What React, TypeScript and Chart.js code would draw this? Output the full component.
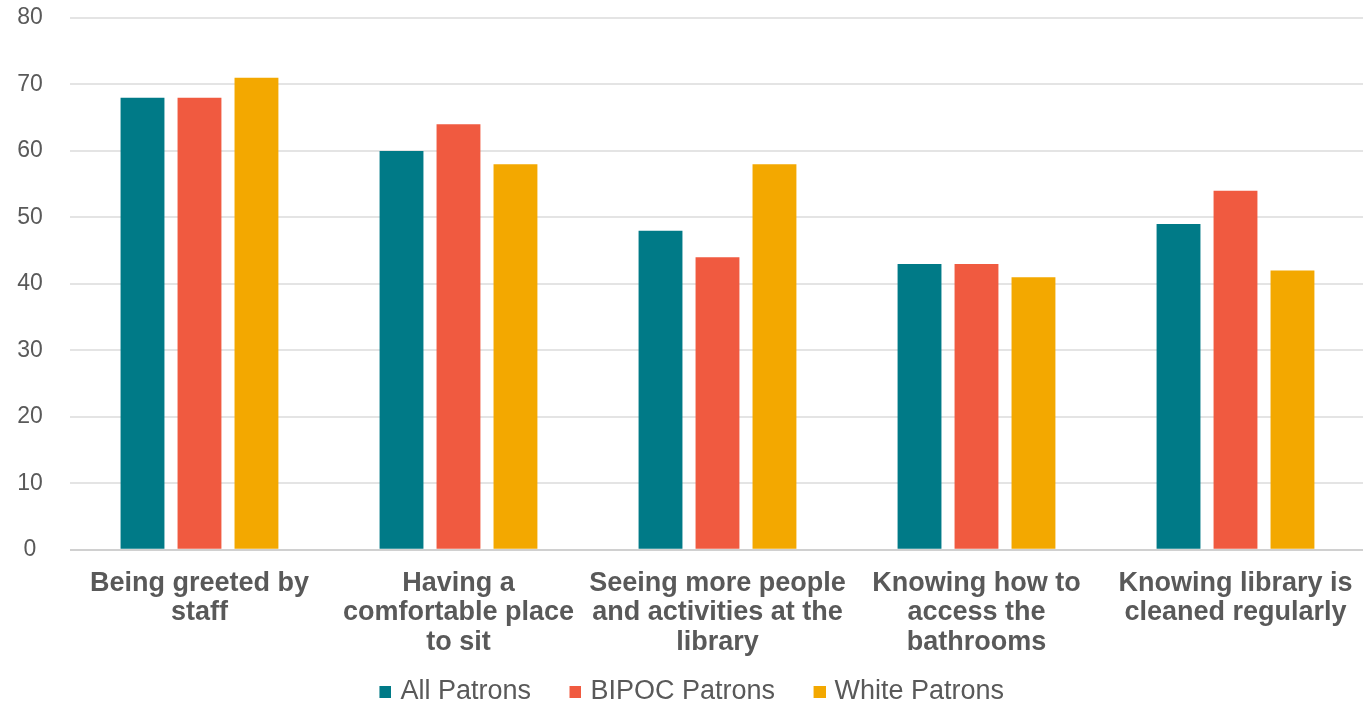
import { useEffect, useRef } from "react";
import { Chart, registerables } from "chart.js";

Chart.register(...registerables);

// Survey categories (multi-line tick labels)
const categories: string[][] = [
  ["Being greeted by", "staff"],
  ["Having a", "comfortable place", "to sit"],
  ["Seeing more people", "and activities at the", "library"],
  ["Knowing how to", "access the", "bathrooms"],
  ["Knowing library is", "cleaned regularly"],
];

const seriesNames = ["All Patrons", "BIPOC Patrons", "White Patrons"];
const allPatrons = [68, 60, 48, 43, 49];
const bipocPatrons = [68, 64, 44, 43, 54];
const whitePatrons = [71, 58, 58, 41, 42];

const yMin = 0;
const yMax = 80;
const yStep = 10;

const COLORS = ["#007A87", "#F05A40", "#F3A800"];
const TEXT = "#595959";
const FONT = "'Liberation Sans', Arial, Helvetica, sans-serif";

// Canvas is a little larger than the frame; the frame crops its edges.
const FRAME_W = 1363;
const FRAME_H = 703;
const CANVAS_W = 1375;
const CANVAS_H = 738;
const OFFSET_X = -10;
const OFFSET_Y = -23;

// Legend marker: a transparent lead-in followed by a small coloured square
// that sits slightly past the slot, closer to its text.
const MARKER_SLOT = 36;
const MARKER_NUDGE = 4.5;
const MARKER_SQ = 12;

function makeMarker(color: string): HTMLCanvasElement {
  const c = document.createElement("canvas");
  c.width = MARKER_SLOT + 2 * MARKER_NUDGE;
  c.height = MARKER_SQ;
  const g = c.getContext("2d");
  if (g) {
    g.fillStyle = color;
    g.fillRect(c.width - MARKER_SQ, 0, MARKER_SQ, MARKER_SQ);
  }
  return c;
}

export default function App() {
  const canvasRef = useRef<HTMLCanvasElement | null>(null);

  useEffect(() => {
    const canvas = canvasRef.current;
    if (!canvas) return;
    const values = [allPatrons, bipocPatrons, whitePatrons];
    const markers = COLORS.map(makeMarker);
    const defaultLabels = (Chart.defaults as any).plugins.legend.labels.generateLabels;

    const chart = new Chart(canvas, {
      type: "bar",
      data: {
        labels: categories,
        datasets: seriesNames.map((name, i) => ({
          label: name,
          data: values[i],
          backgroundColor: COLORS[i],
          borderWidth: 0,
          barPercentage: 0.77,
          categoryPercentage: 0.66,
        })),
      },
      options: {
        responsive: false,
        animation: false,
        devicePixelRatio: 1,
        layout: { padding: { top: 0, left: 0, right: 0, bottom: 0 } },
        plugins: {
          tooltip: { enabled: false },
          legend: {
            position: "bottom",
            labels: {
              color: TEXT,
              font: { family: FONT, size: 27 },
              usePointStyle: true,
              pointStyleWidth: MARKER_SLOT,
              boxHeight: MARKER_SQ,
              padding: 10,
              generateLabels: (c: any) =>
                defaultLabels(c).map((item: any, i: number) => ({
                  ...item,
                  pointStyle: markers[i],
                })),
            },
          },
        },
        scales: {
          x: {
            grid: { display: false },
            border: { display: false },
            ticks: {
              color: TEXT,
              font: { family: FONT, size: 27, weight: "bold", lineHeight: 1.09 },
              padding: 11,
              maxRotation: 0,
              minRotation: 0,
              autoSkip: false,
            },
          },
          y: {
            min: yMin,
            max: yMax,
            border: { display: false },
            grid: {
              drawTicks: false,
              lineWidth: 2,
              color: (ctx: any) => (ctx.tick && ctx.tick.value === 0 ? "#d0d0d0" : "#e4e4e4"),
            },
            ticks: {
              stepSize: yStep,
              color: TEXT,
              font: { family: FONT, size: 23 },
              padding: 27.2,
              crossAlign: "center",
            },
          },
        },
      },
    });
    return () => chart.destroy();
  }, []);

  return (
    <div
      style={{
        position: "fixed",
        left: 0,
        top: 0,
        width: FRAME_W,
        height: FRAME_H,
        overflow: "hidden",
        background: "#ffffff",
      }}
    >
      <canvas
        ref={canvasRef}
        width={CANVAS_W}
        height={CANVAS_H}
        style={{ position: "absolute", left: OFFSET_X, top: OFFSET_Y, display: "block" }}
      />
    </div>
  );
}
